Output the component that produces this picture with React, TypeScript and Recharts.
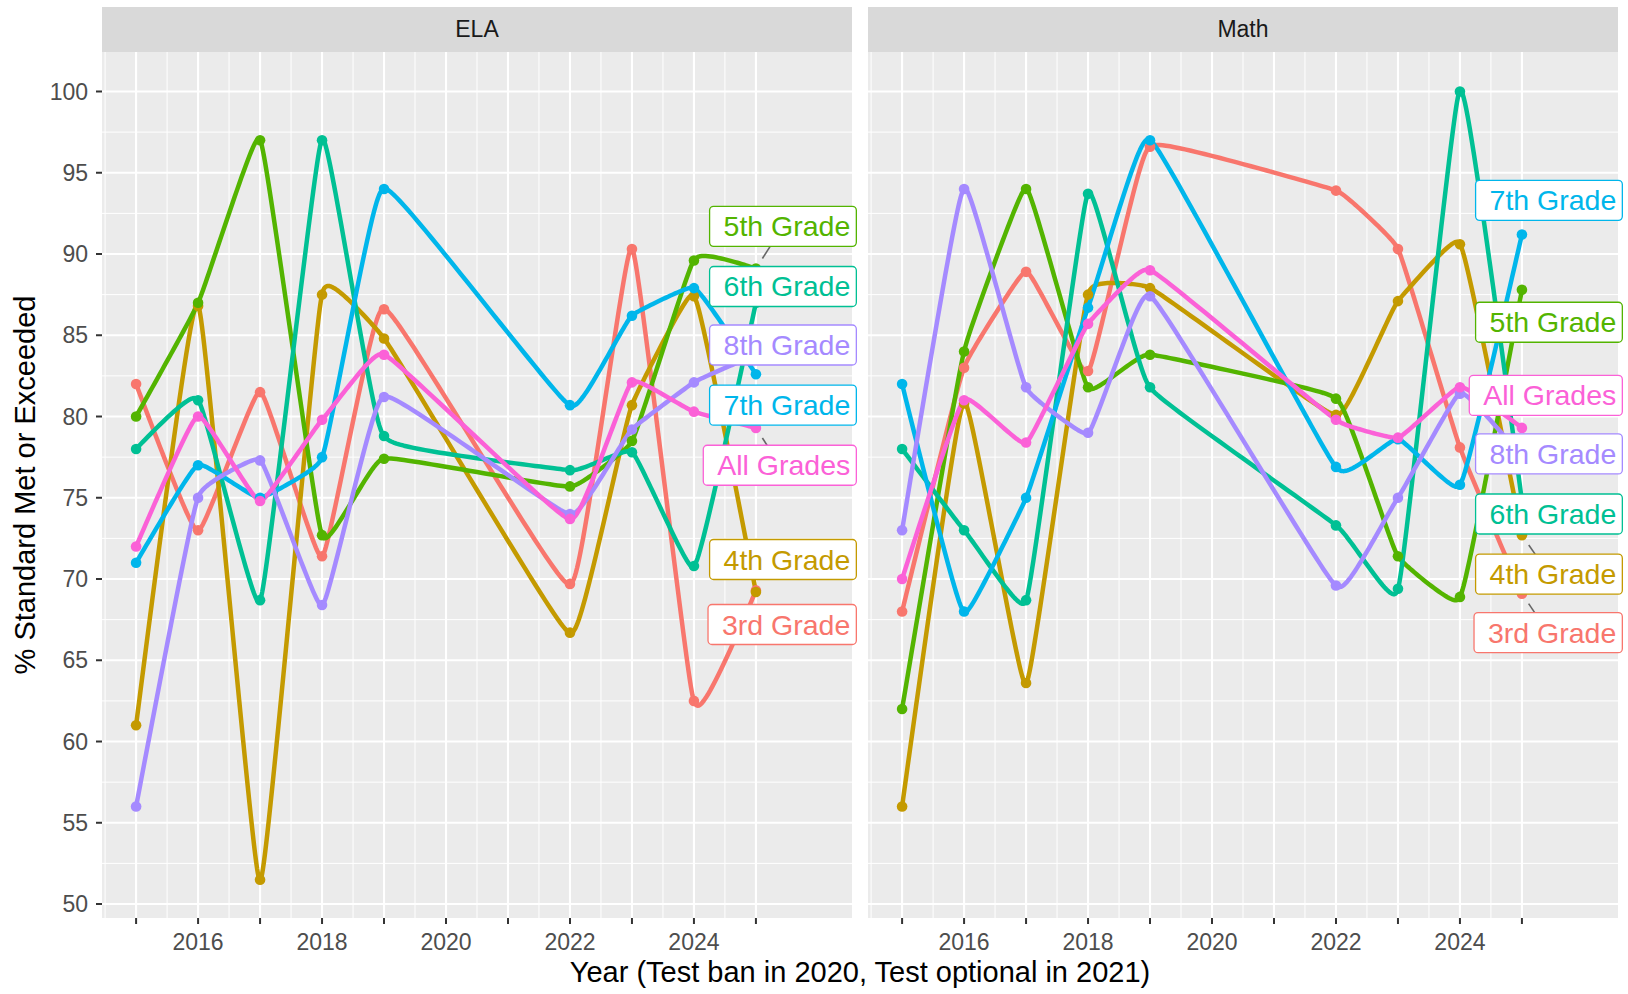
import React from 'react'
import { CartesianGrid, Line, LineChart, ReferenceDot, ReferenceLine, XAxis, YAxis } from 'recharts'

const FONT = '"Liberation Sans", Arial, Helvetica, sans-serif'

const YEARS = [2015, 2016, 2017, 2018, 2019, 2022, 2023, 2024, 2025]
const GRADES = ['3rd Grade', '4th Grade', '5th Grade', '6th Grade', '7th Grade', '8th Grade', 'All Grades']
const KEYS = ['g3', 'g4', 'g5', 'g6', 'g7', 'g8', 'all']
const COLORS = ['#F8766D', '#C49A00', '#53B400', '#00C094', '#00B6EB', '#A58AFF', '#FB61D7']

// ELA, % standard met or exceeded
const ELA_3RD = [82, 73, 81.5, 71.4, 86.6, 69.7, 90.3, 62.5, 69.3]
const ELA_4TH = [61, 86.8, 51.5, 87.5, 84.8, 66.7, 80.7, 87.4, 69.2]
const ELA_5TH = [80, 87, 97, 72.7, 77.4, 75.7, 78.5, 89.6, 89.1]
const ELA_6TH = [78, 81, 68.7, 97, 78.8, 76.7, 77.8, 70.8, 87]
const ELA_7TH = [71, 77, 75, 77.5, 94, 80.7, 86.2, 87.9, 82.6]
const ELA_8TH = [56, 75, 77.3, 68.4, 81.2, 74, 79.2, 82.1, 83.8]
const ELA_ALL = [72, 80, 74.8, 79.8, 83.8, 73.7, 82.1, 80.3, 79.3]

// Math
const MATH_3RD = [68, 83, 88.9, 82.8, 96.6, 93.9, 90.3, 78.1, 69.1]
const MATH_4TH = [56, 80.8, 63.6, 87.5, 87.9, 80.1, 87.1, 90.6, 72.7]
const MATH_5TH = [62, 84, 94, 81.8, 83.8, 81.1, 71.4, 68.9, 87.8]
const MATH_6TH = [78, 73, 68.7, 93.7, 81.8, 73.3, 69.4, 100, 74.8]
const MATH_7TH = [82, 68, 75, 86.7, 97, 76.9, 78.6, 75.8, 91.2]
const MATH_8TH = [73, 94, 81.8, 79, 87.4, 69.6, 75, 81.4, 77.5]
const MATH_ALL = [70, 81, 78.4, 85.7, 89, 79.8, 78.7, 81.8, 79.3]

// repelled label positions (value axis), same order as GRADES
const ELA_LABEL_Y = [67.2, 71.2, 91.7, 88.0, 80.7, 84.4, 77.0]
const MATH_LABEL_Y = [66.7, 70.3, 85.8, 74.0, 93.3, 77.7, 81.3]
const ELA_SEGMENTS = ['5th Grade', 'All Grades']
const MATH_SEGMENTS = ['3rd Grade', '4th Grade']
const LABEL_X = 2026.62

const X_DOMAIN = [2014.45, 2026.55]
const Y_DOMAIN = [49.14, 102.43]
const YEAR_TICKS = [2015, 2016, 2017, 2018, 2019, 2020, 2021, 2022, 2023, 2024, 2025]
const YEAR_LABELS = [2016, 2018, 2020, 2022, 2024]
const YEAR_MINOR = [2014.5, 2015.5, 2016.5, 2017.5, 2018.5, 2019.5, 2020.5, 2021.5, 2022.5, 2023.5, 2024.5]
const Y_TICKS = [50, 55, 60, 65, 70, 75, 80, 85, 90, 95, 100]
const Y_MINOR = [52.5, 57.5, 62.5, 67.5, 72.5, 77.5, 82.5, 87.5, 92.5, 97.5]

const LABEL_FONT = 28.5

function buildRows(series: number[][]) {
  return YEARS.map((year, i) => {
    const row: Record<string, number> = { year }
    KEYS.forEach((k, j) => {
      row[k] = series[j][i]
    })
    return row
  })
}

const ELA_ROWS = buildRows([ELA_3RD, ELA_4TH, ELA_5TH, ELA_6TH, ELA_7TH, ELA_8TH, ELA_ALL])
const MATH_ROWS = buildRows([MATH_3RD, MATH_4TH, MATH_5TH, MATH_6TH, MATH_7TH, MATH_8TH, MATH_ALL])

// open X-spline (Blanc & Schlick, as in R's xspline / ggalt::geom_xspline)
function fBlend(num: number, den: number) {
  const p = 2 * den * den
  const u = num / den
  return u * u * u * (10 - p + (2 * p - 15) * u + (6 - p) * u * u)
}
function gBlend(u: number, q: number) {
  return u * (q + u * (2 * q + u * (10 - q + u * (2 * q - 15 + u * (6 - q)))))
}
function hBlend(u: number, q: number) {
  const u2 = u * u
  return u * (q + u * (2 * q + u2 * (-2 * q - u * q)))
}
function blend(t: number, s1: number, s2: number) {
  let a0: number
  let a2: number
  let a1: number
  let a3: number
  if (s1 < 0) {
    a0 = hBlend(-t, -s1)
    a2 = gBlend(t, -s1)
  } else {
    a0 = t < s1 ? fBlend(t - s1, -1 - s1) : 0
    a2 = fBlend(t + s1, 1 + s1)
  }
  if (s2 < 0) {
    a1 = gBlend(1 - t, -s2)
    a3 = hBlend(t - 1, -s2)
  } else {
    a1 = fBlend(t - 1 - s2, -1 - s2)
    a3 = t > 1 - s2 ? fBlend(t - 1 + s2, 1 + s2) : 0
  }
  return [a0, a1, a2, a3]
}

function xsplineCurve(shape: number, steps: number) {
  return (context: any) => {
    let pts: number[][] = []
    return {
      areaStart() {},
      areaEnd() {},
      lineStart() {
        pts = []
      },
      point(x: number, y: number) {
        pts.push([+x, +y])
      },
      lineEnd() {
        const n = pts.length
        if (!n) return
        context.moveTo(pts[0][0], pts[0][1])
        if (n === 1) return
        const s = pts.map((_, i) => (i === 0 || i === n - 1 ? 0 : shape))
        for (let seg = 0; seg < n - 1; seg++) {
          const idx = [Math.max(seg - 1, 0), seg, seg + 1, Math.min(seg + 2, n - 1)]
          for (let j = 1; j <= steps; j++) {
            const t = j / steps
            const w = blend(t, s[idx[1]], s[idx[2]])
            const sum = w[0] + w[1] + w[2] + w[3]
            let x = 0
            let y = 0
            for (let m = 0; m < 4; m++) {
              x += w[m] * pts[idx[m]][0]
              y += w[m] * pts[idx[m]][1]
            }
            context.lineTo(x / sum, y / sum)
          }
        }
      },
    }
  }
}

const CURVE = xsplineCurve(-0.25, 40)

let measureCtx: CanvasRenderingContext2D | null = null
function labelWidth(text: string) {
  if (!measureCtx) measureCtx = document.createElement('canvas').getContext('2d')
  if (!measureCtx) return text.length * 15
  measureCtx.font = `${LABEL_FONT}px ${FONT}`
  return measureCtx.measureText(text).width + 20
}

function LabelBox({ cx, cy, text, color }: { cx: number; cy: number; text: string; color: string }) {
  const w = labelWidth(text)
  return (
    <g>
      <rect x={cx - w} y={cy - 20} width={w} height={40} rx={4} fill="#FFFFFF" stroke={color} strokeWidth={1.3} />
      <text x={cx - 6} y={cy + 10} textAnchor="end" fill={color} fontSize={LABEL_FONT} fontFamily={FONT}>
        {text}
      </text>
    </g>
  )
}

function Leader(props: any, text: string) {
  const { x1, y1, x2, y2 } = props
  const w = labelWidth(text)
  const cx = x2 - w / 2
  const cy = y2
  const dx = x1 - cx
  const dy = y1 - cy
  const len = Math.hypot(dx, dy)
  const t = Math.min(w / 2 / Math.abs(dx || 1e-6), 20 / Math.abs(dy || 1e-6))
  const sx = cx + dx * t
  const sy = cy + dy * t
  const ex = x1 - (dx / len) * 12
  const ey = y1 - (dy / len) * 12
  return <line x1={sx} y1={sy} x2={ex} y2={ey} stroke="#666666" strokeWidth={1.6} />
}

function Panel({
  rows,
  labelYs,
  segments,
  showYAxis,
  left,
}: {
  rows: Record<string, number>[]
  labelYs: number[]
  segments: string[]
  showYAxis: boolean
  left: number
}) {
  const width = showYAxis ? 860 : 760
  return (
    <div style={{ position: 'absolute', left, top: 52 }}>
      <LineChart
        width={width}
        height={911}
        data={rows}
        margin={{ top: 0, right: showYAxis ? 8 : 10, bottom: 0, left: 0 }}
      >
        <CartesianGrid
          fill="#EBEBEB"
          stroke="#FFFFFF"
          strokeWidth={1}
          horizontalValues={Y_MINOR}
          verticalValues={YEAR_MINOR}
        />
        <CartesianGrid stroke="#FFFFFF" strokeWidth={2.1} horizontalValues={Y_TICKS} verticalValues={YEAR_TICKS} />
        <XAxis
          type="number"
          dataKey="year"
          domain={X_DOMAIN}
          allowDataOverflow
          ticks={YEAR_TICKS}
          interval={0}
          tickFormatter={(v: number) => (YEAR_LABELS.includes(v) ? String(v) : '')}
          axisLine={false}
          tickLine={{ stroke: '#333333', strokeWidth: 2 }}
          tickSize={6}
          tickMargin={10}
          height={45}
          tick={{ fontSize: 23, fill: '#4D4D4D', fontFamily: FONT }}
        />
        <YAxis
          type="number"
          domain={Y_DOMAIN}
          allowDataOverflow
          ticks={Y_TICKS}
          interval={0}
          hide={!showYAxis}
          axisLine={false}
          tickLine={{ stroke: '#333333', strokeWidth: 2 }}
          tickSize={6}
          tickMargin={8}
          width={102}
          tick={{ fontSize: 23, fill: '#4D4D4D', fontFamily: FONT }}
        />
        {KEYS.map((k, i) => (
          <Line
            key={`line-${k}`}
            dataKey={k}
            type={CURVE as any}
            stroke={COLORS[i]}
            strokeWidth={4.5}
            strokeLinejoin="round"
            dot={false}
            activeDot={false}
            isAnimationActive={false}
          />
        ))}
        {KEYS.map((k, i) => (
          <Line
            key={`dot-${k}`}
            dataKey={k}
            stroke="none"
            dot={{ r: 5.3, fill: COLORS[i], stroke: COLORS[i], strokeWidth: 0 }}
            activeDot={false}
            isAnimationActive={false}
          />
        ))}
        {GRADES.map((g, i) =>
          segments.includes(g) ? (
            <ReferenceLine
              key={`seg-${g}`}
              segment={[
                { x: YEARS[YEARS.length - 1], y: rows[rows.length - 1][KEYS[i]] },
                { x: LABEL_X, y: labelYs[i] },
              ]}
              ifOverflow="visible"
              shape={(p: any) => Leader(p, g)}
            />
          ) : null,
        )}
        {GRADES.map((g, i) => (
          <ReferenceDot
            key={`lab-${g}`}
            x={LABEL_X}
            y={labelYs[i]}
            r={1}
            ifOverflow="visible"
            shape={(p: any) => <LabelBox cx={p.cx} cy={p.cy} text={g} color={COLORS[i]} />}
          />
        ))}
      </LineChart>
    </div>
  )
}

function Strip({ left, text }: { left: number; text: string }) {
  return (
    <div
      style={{
        position: 'absolute',
        left,
        top: 7,
        width: 750,
        height: 45,
        lineHeight: '45px',
        background: '#D9D9D9',
        color: '#1A1A1A',
        fontSize: 23,
        fontFamily: FONT,
        textAlign: 'center',
      }}
    >
      {text}
    </div>
  )
}

export default function App() {
  return (
    <div style={{ position: 'absolute', left: 0, top: 0, width: 1628, height: 994, background: '#FFFFFF', fontFamily: FONT }}>
      <Strip left={102} text="ELA" />
      <Strip left={868} text="Math" />
      <Panel rows={ELA_ROWS} labelYs={ELA_LABEL_Y} segments={ELA_SEGMENTS} showYAxis left={0} />
      <Panel rows={MATH_ROWS} labelYs={MATH_LABEL_Y} segments={MATH_SEGMENTS} showYAxis={false} left={868} />
      <div
        style={{
          position: 'absolute',
          left: 25,
          top: 485,
          transform: 'translate(-50%, -50%) rotate(-90deg)',
          whiteSpace: 'nowrap',
          fontSize: 29,
          lineHeight: 1,
          color: '#000000',
        }}
      >
        % Standard Met or Exceeded
      </div>
      <div
        style={{
          position: 'absolute',
          left: 102,
          width: 1516,
          top: 958,
          textAlign: 'center',
          whiteSpace: 'nowrap',
          fontSize: 29,
          lineHeight: 1,
          color: '#000000',
        }}
      >
        Year (Test ban in 2020, Test optional in 2021)
      </div>
    </div>
  )
}
